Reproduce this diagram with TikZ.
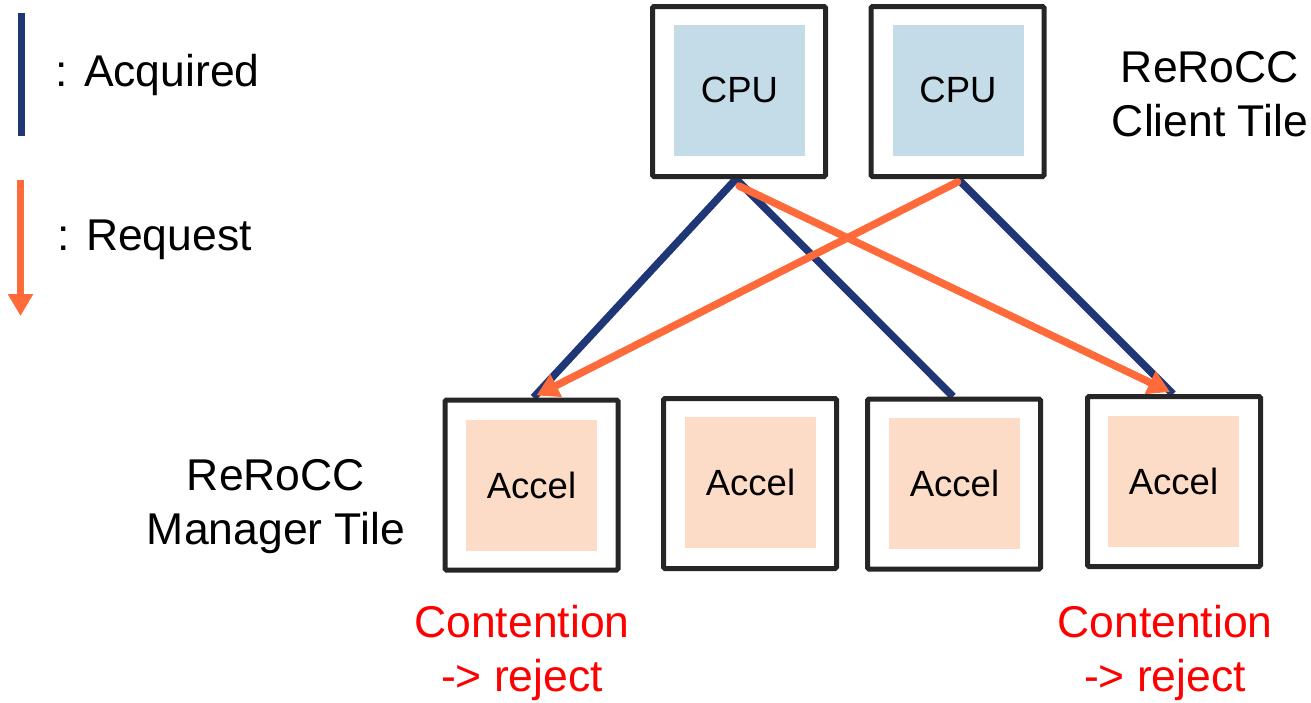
\documentclass[tikz,border=0pt]{standalone}
\usepackage{fontspec}
\setmainfont{Liberation Sans}
\usetikzlibrary{arrows.meta,backgrounds,calc}

\definecolor{acq}{HTML}{1F3777}
\definecolor{req}{HTML}{FF6A3A}
\definecolor{cpufill}{HTML}{C4DBE8}
\definecolor{accfill}{HTML}{FDDCC7}
\definecolor{tileedge}{HTML}{262626}
\definecolor{warn}{HTML}{FF0000}

\tikzset{
  tile/.style={draw=tileedge, line width=5pt, fill=white, rounded corners=1.5pt,
    minimum width=173pt, minimum height=170pt, inner sep=0pt},
  core/.style={minimum width=131pt, minimum height=131pt, inner sep=0pt,
    font=\fontsize{36.5}{42}\selectfont},
  cpucore/.style={core, fill=cpufill},
  acccore/.style={core, fill=accfill},
  acquired/.style={draw=acq, line width=7.5pt},
  request/.style={draw=req, line width=7.5pt, -{Triangle[length=22pt,width=24pt]}},
  label/.style={font=\fontsize{44.5}{54}\selectfont, align=center, inner sep=0pt},
  warnlabel/.style={label, text=warn},
}

\begin{document}
\begin{tikzpicture}[x=1pt,y=-1pt]
\useasboundingbox (0,0) rectangle (1311,702);

% client tiles
\node[tile] (cpuA) at (739,91.5) {};
\node[cpucore] (cpuAi) at (739.5,90) {CPU};
\node[tile] (cpuB) at (957.5,91.5) {};
\node[cpucore] (cpuBi) at (958,90) {CPU};

% manager tiles
\node[tile] (accA) at (531.5,485) {};
\node[acccore] (accAi) at (531.5,485.5) {Accel};
\node[tile] (accB) at (750,483.5) {};
\node[acccore] (accBi) at (750.5,482.5) {Accel};
\node[tile] (accC) at (954,484) {};
\node[acccore] (accCi) at (954.5,483) {Accel};
\node[tile] (accD) at (1174,481.5) {};
\node[acccore] (accDi) at (1173.5,481.5) {Accel};

% connectors
\begin{scope}[on background layer]
  \draw[acquired] ($(cpuA.south)+(-3,0)$) -- ($(accA.north)+(2,0)$);
  \draw[acquired] ($(cpuA.south)+(-3,0)$) -- ($(accC.north)+(-1,0)$);
  \draw[acquired] ($(cpuB.south)+(0.5,0)$) -- ($(accD.north)+(-1,0)$);
\end{scope}
\draw[request, line cap=round] ($(cpuA.south)+(0,7)$) -- ($(accD.north)+(-4,-2)$);
\draw[request, line cap=round] ($(cpuB.south)+(0,3)$) -- ($(accA.north)+(5,-2)$);

% legend
\coordinate (acqTop) at (21.5,13);
\coordinate (acqBot) at (21.5,136);
\draw[acquired] (acqTop) -- (acqBot);
\node[label, anchor=west] (acqText) at (55,75) {: Acquired};
\coordinate (reqTop) at (20.5,180);
\coordinate (reqBot) at (20.5,316);
\draw[request] (reqTop) -- (reqBot);
\node[label, anchor=west] (reqText) at (57,240) {: Request};

% tile labels
\node[label] (clientLbl) at (1210,94) {ReRoCC\\Client Tile};
\node[label] (managerLbl) at (276,507) {ReRoCC\\Manager Tile};

% contention notes
\node[warnlabel] (rejA) at (522,653) {Contention\\-> reject};
\node[warnlabel] (rejD) at (1165,653) {Contention\\-> reject};
\end{tikzpicture}
\end{document}
